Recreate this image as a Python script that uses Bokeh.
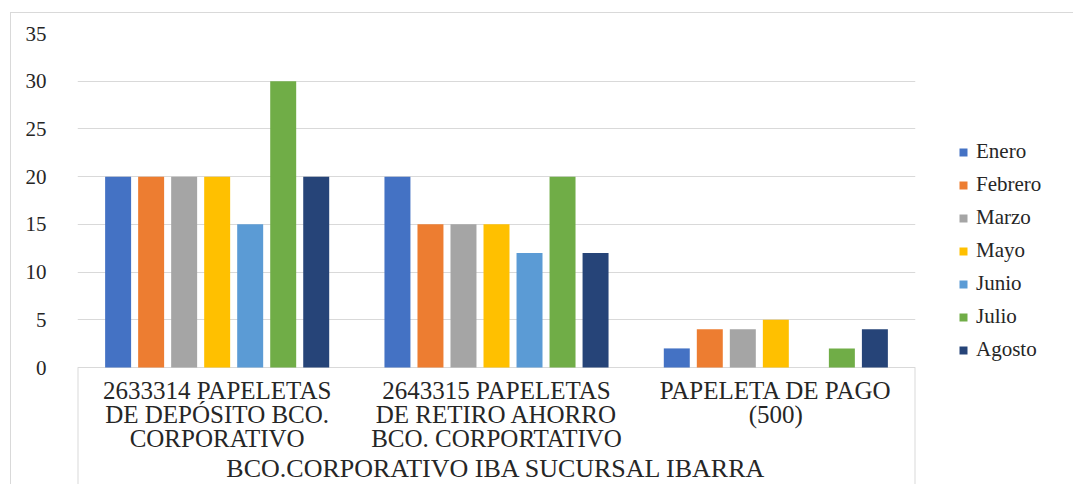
import numpy as np
from bokeh.plotting import figure
from bokeh.models import Range1d, FixedTicker, Legend, LegendItem, ColumnDataSource
from bokeh.core.properties import value
from bokeh.embed import file_html
from bokeh.resources import INLINE

categories = [
    "2633314 PAPELETAS\nDE DEPÓSITO BCO.\nCORPORATIVO",
    "2643315 PAPELETAS\nDE RETIRO AHORRO\nBCO. CORPORTATIVO",
    "PAPELETA DE PAGO\n(500)",
]
group_label = "BCO.CORPORATIVO IBA SUCURSAL IBARRA"
months = ["Enero", "Febrero", "Marzo", "Mayo", "Junio", "Julio", "Agosto"]
enero = [20, 20, 2]
febrero = [20, 15, 4]
marzo = [20, 15, 4]
mayo = [20, 15, 5]
junio = [15, 12, 0]
julio = [30, 20, 2]
agosto = [20, 12, 4]
series = [enero, febrero, marzo, mayo, junio, julio, agosto]
colors = ["#4472C4", "#ED7D31", "#A5A5A5", "#FFC000", "#5B9BD5", "#70AD47", "#264478"]
y_ticks = [0, 5, 10, 15, 20, 25, 30, 35]

FONT = "'Liberation Serif', 'Times New Roman', serif"
TXT = "#262626"

p = figure(frame_width=838, frame_height=451, output_backend="svg", toolbar_location=None,
           x_range=Range1d(0, len(categories)), y_range=Range1d(-12.26, 35),
           min_border_left=66, min_border_top=20, min_border_bottom=0, min_border_right=0)
p.styles = {"margin-left": "10px", "margin-top": "12px",
            "border-top": "1px solid #d9d9d9", "border-left": "1px solid #d9d9d9"}
p.outline_line_color = None
p.xaxis.visible = False
p.xgrid.visible = False
p.yaxis.ticker = FixedTicker(ticks=y_ticks)
p.ygrid.ticker = FixedTicker(ticks=y_ticks)
p.ygrid.grid_line_color = "#d9d9d9"
p.ygrid.grid_line_width = 1
p.yaxis.axis_line_color = None
p.yaxis.major_tick_line_color = None
p.yaxis.minor_tick_line_color = None
p.yaxis.major_label_standoff = 25
p.yaxis.major_label_text_font = FONT
p.yaxis.major_label_text_font_size = "21px"
p.yaxis.major_label_text_color = TXT

centers = np.arange(len(categories)) + 0.5
step = 0.1182
bw = 0.093
items = []
for j, (name, vals, col) in enumerate(zip(months, series, colors)):
    src = ColumnDataSource(dict(x=centers + (j - 3) * step, top=vals))
    r = p.vbar(x="x", top="top", bottom=0, width=bw, source=src,
               fill_color=col, line_color=None)
    items.append(LegendItem(label=name, renderers=[r]))

# category box lines
p.segment(x0=[0, len(categories)], y0=[0, 0], x1=[0, len(categories)], y1=[-12.26, -12.26],
          line_color="#d9d9d9", line_width=2)

p.text(x=centers, y=[-1.0] * len(categories), text=categories, text_align="center",
       text_baseline="top", text_font=value(FONT), text_font_size="25px",
       text_line_height=0.88, text_color=TXT)
p.text(x=[len(categories) / 2], y=[-10.6], text=[group_label], text_align="center",
       text_baseline="middle", text_font=value(FONT), text_font_size="26px", text_color=TXT)

legend = Legend(items=items, location=(43, 122), orientation="vertical")
legend.border_line_color = None
legend.background_fill_alpha = 0
legend.margin = 0
legend.padding = 0
legend.glyph_width = 10
legend.glyph_height = 10
legend.label_standoff = 8
legend.spacing = 8
legend.label_text_font = FONT
legend.label_text_font_size = "21px"
legend.label_text_color = TXT
legend.label_width = 80
legend.label_height = 23
p.add_layout(legend, "right")

open("out.html", "w").write(file_html(p, INLINE))
